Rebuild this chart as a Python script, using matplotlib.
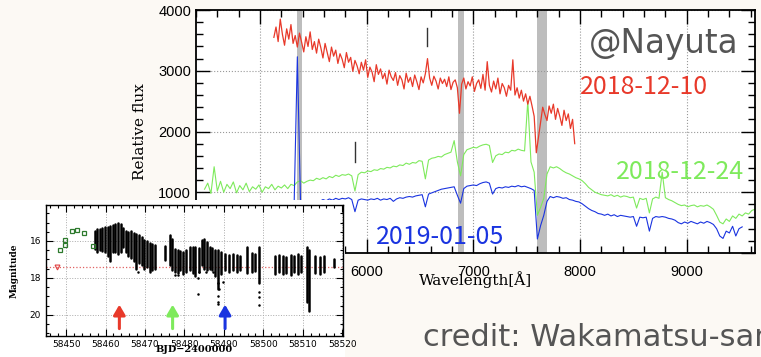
import numpy as np
import matplotlib
matplotlib.use('Agg')
import matplotlib.pyplot as plt
from matplotlib.patches import Rectangle
from matplotlib.ticker import MultipleLocator

# ---- spectra (Relative flux) ----
red_start, red_step = 5130, 20
red_flux = [
    3550, 3720, 3480, 3850, 3600, 3420, 3690, 3520, 3760, 3450,
    3580, 3390, 3620, 3470, 3310, 3560, 3400, 3640, 3350, 3480,
    3290, 3520, 3380, 3210, 3450, 3300, 3150, 3390, 3240, 3340,
    3120, 3280, 3190, 3050, 3300, 3140, 3220, 2990, 3170, 3080,
    2950, 3140, 3010, 3180, 2890, 3060, 2980, 2820, 3100, 2940,
    3030, 2870, 2960, 2780, 3010, 2900, 2840, 2970, 2760, 2920,
    2850, 2700, 2960, 2810, 2890, 2740, 2930, 2820, 2690, 2900,
    2800, 2950, 3200, 2880, 2760, 2910, 2830, 2700, 2880, 2790,
    2860, 2740, 2900, 2690, 2810, 2850, 2720, 2300, 2780, 2880,
    2700, 2820, 2750, 2900, 2660, 2790, 2850, 2710, 2940, 2680,
    3150, 2760, 2650, 2830, 2700, 2880, 2620, 2790, 2720, 2580,
    2760, 2680, 3180, 2600, 2720, 2550, 2680, 2500, 2620, 2450,
    2580, 2420, 2250, 1650, 1900, 2150, 2400, 2280, 2180, 2420,
    2300, 2450, 2200, 2380, 2250, 2100, 2350, 2180, 2290, 2050,
    2200, 1800,
]

gb_start, gb_step = 4480, 30
green_flux = [
    1050, 1150, 980, 1420, 1020, 1180, 1000, 1130, 1060, 1170,
    990, 1110, 1040, 1150, 1010, 1090, 1050, 1120, 1000, 1090,
    1060, 1130, 1040, 1100, 1070, 1120, 1060, 1130, 1110, 1170,
    1190, 1150, 1180, 1200, 1190, 1230, 1210, 1240, 1220, 1260,
    1240, 1280, 1260, 1290, 1280, 1300, 1270, 1020, 1290, 1330,
    1320, 1350, 1340, 1370, 1360, 1390, 1380, 1410, 1400, 1430,
    1420, 1450, 1440, 1480, 1460, 1490, 1480, 1520, 1510, 1220,
    1530, 1560, 1570, 1590, 1580, 1620, 1640, 1660, 1850, 1500,
    1270, 1620, 1700, 1720, 1740, 1730, 1760, 1780, 1790, 1770,
    1490, 1600, 1630, 1620, 1660, 1650, 1690, 1680, 1710, 1690,
    1680, 2500, 1500, 1330, 620, 750, 900, 1300, 1420, 1400,
    1420, 1390, 1350, 1320, 1300, 1270, 1240, 1220, 1190, 1140,
    1080, 1040, 1000, 980, 960, 950, 940, 960, 930, 950,
    920, 940, 930, 910, 920, 740, 900, 880, 900, 660,
    890, 920, 900, 1330, 910, 880, 860, 830, 800, 780,
    790, 760, 780, 790, 760, 780, 770, 790, 760, 720,
    620, 510, 480, 560, 520, 610, 570, 640, 610, 660,
    640, 700, 720,
]

blue_flux = [
    760, 800, 740, 820, 770, 790, 750, 800, 770, 810,
    760, 790, 780, 810, 770, 800, 790, 810, 780, 800,
    790, 820, 800, 810, 790, 820, 810, 830, 810, 3230,
    820, 840, 820, 850, 830, 860, 850, 880, 860, 890,
    870, 900, 880, 900, 890, 910, 880, 680, 870, 890,
    880, 870, 890, 880, 900, 870, 890, 880, 900, 850,
    890, 910, 900, 920, 930, 920, 940, 950, 960, 760,
    970, 990, 1010, 1030, 1050, 1060, 1070, 1080, 1090, 950,
    820, 1060, 1100, 1110, 1120, 1110, 1140, 1160, 1170, 1150,
    970, 1060, 1080, 1070, 1090, 1080, 1100, 1090, 1110, 1090,
    1100, 1080, 1060, 1030, 230, 450, 620, 850, 930, 910,
    930, 920, 900, 910, 880, 870, 850, 840, 810, 770,
    730, 700, 680, 650, 640, 620, 640, 610, 630, 600,
    620, 610, 600, 590, 600, 440, 590, 580, 590, 360,
    570, 600, 590, 600, 590, 570, 560, 540, 500, 480,
    510, 490, 520, 500, 480, 510, 490, 520, 500, 470,
    400, 280, 240, 360, 330, 440, 280, 400, 430,
]

bad_bands = [(5343, 5390), (6860, 6910), (7592, 7690)]
line_marks = [(6562, 3400, 3700), (5890, 1490, 1820)]

# ---- light curve (inset) ----
night_jd = [58457.2, 58457.8, 58458.5, 58459.2, 58459.8, 58460.5, 58461.2, 58461.8,
            58462.5, 58463.2, 58463.8, 58464.5, 58465.2, 58465.8, 58466.5, 58467.2,
            58467.8, 58468.5, 58469.2, 58469.8, 58470.5, 58471.2, 58471.8, 58472.5,
            58475.0, 58476.4, 58476.9, 58477.6, 58478.3, 58479.0, 58479.7, 58480.4,
            58481.4, 58482.1, 58482.8, 58483.6, 58484.4, 58485.0, 58485.7, 58486.4,
            58487.1, 58487.8, 58488.5, 58489.2, 58490.3, 58491.3, 58492.2, 58493.2,
            58494.2, 58495.9, 58497.1, 58498.0, 58498.8, 58502.9, 58503.9, 58505.0,
            58505.8, 58506.9, 58507.9, 58508.8, 58509.6, 58511.0, 58511.7, 58513.2,
            58514.3, 58515.4, 58518.0]
night_top = [15.45, 15.35, 15.35, 15.3, 15.25, 15.25, 15.2, 15.15,
             15.1, 15.05, 15.1, 15.3, 15.45, 15.5, 15.45, 15.55,
             15.6, 15.7, 15.8, 15.95, 16.0, 16.1, 16.15, 16.2,
             16.25, 15.7, 15.9, 16.45, 16.5, 16.55, 16.6, 16.5,
             16.3, 16.35, 16.3, 16.4, 15.95, 15.9, 16.05, 16.3,
             16.4, 16.5, 16.5, 16.6, 16.7, 16.75, 16.7, 16.75,
             16.8, 16.35, 16.65, 16.7, 16.35, 16.8, 16.75, 16.8,
             16.85, 16.75, 16.8, 16.7, 16.8, 16.35, 16.5, 16.8,
             16.85, 16.8, 16.95]
night_bot = [16.45, 16.6, 16.5, 16.55, 16.6, 16.8, 17.1, 16.6,
             16.6, 16.7, 16.6, 16.3, 16.6, 16.8, 16.9, 17.1,
             17.5, 17.2, 17.3, 17.5, 17.4, 17.7, 17.6, 17.5,
             17.05, 17.3, 17.6, 17.7, 17.75, 17.6, 17.8, 17.7,
             17.6, 17.75, 17.9, 17.7, 17.3, 17.5, 17.6, 17.5,
             17.6, 17.9, 18.6, 17.8, 17.6, 17.7, 17.55, 17.7,
             17.6, 17.75, 17.7, 17.65, 18.3, 17.8, 17.7, 17.8,
             17.75, 17.85, 17.7, 17.8, 17.7, 19.3, 19.8, 17.75,
             17.8, 17.7, 17.4]
out_jd = [58468.2, 58477.5, 58478.3, 58483.4, 58483.4, 58483.8, 58485.5, 58487.2,
          58488.4, 58488.8, 58488.5, 58488.6, 58488.4, 58489.8, 58498.9, 58498.9,
          58498.9]
out_mag = [17.68, 17.86, 17.86, 17.98, 18.85, 17.7, 17.68, 17.68,
           18.3, 18.6, 19.0, 19.3, 19.4, 18.2, 18.76, 19.03,
           19.48]
early_jd = [58448.55, 58449.6, 58449.6, 58451.5, 58452.7, 58454.6, 58456.7]
early_mag = [16.5, 16.23, 15.92, 15.47, 15.42, 15.55, 16.29]
limit_jd, limit_mag = [58447.7], [17.4]
ref_mag = 17.4
arrow_jd = [58463.5, 58477.0, 58490.3]

RED, GREEN, BLUE = '#e8392a', '#7eea5c', '#1a34e0'
arrow_colors = [RED, GREEN, BLUE]

fig = plt.figure(figsize=(7.61, 3.57), dpi=100)
fig.patch.set_facecolor('#fcf9f4')

W, H = 761.0, 357.0
ax = fig.add_axes([196 / W, 1 - 253 / H, (755 - 196) / W, (253 - 10) / H])
ax.set_facecolor('white')

wl_red = red_start + red_step * np.arange(len(red_flux))
wl_green = gb_start + gb_step * np.arange(len(green_flux))
wl_blue = gb_start + gb_step * np.arange(len(blue_flux))

for a, b in bad_bands:
    ax.axvspan(a, b, color='#bdbdbd', lw=0, zorder=1)
ax.plot(wl_green, green_flux, color=GREEN, lw=0.8, zorder=2)
ax.plot(wl_blue, blue_flux, color=BLUE, lw=0.8, zorder=3)
ax.plot(wl_red, red_flux, color=RED, lw=0.9, zorder=4)
for wl, lo, hi in line_marks:
    ax.plot([wl, wl], [lo, hi], color='#333333', lw=1.0, zorder=5)

ax.set_xlim(4400, 9640)
ax.set_ylim(0, 4000)
ax.xaxis.set_major_locator(MultipleLocator(1000))
ax.xaxis.set_minor_locator(MultipleLocator(200))
ax.yaxis.set_major_locator(MultipleLocator(1000))
ax.yaxis.set_minor_locator(MultipleLocator(200))
ax.tick_params(which='both', direction='in', top=True, right=True, width=1.0)
ax.tick_params(which='major', length=10, labelsize=10.5)
ax.tick_params(axis='x', which='major', pad=9)
ax.tick_params(which='minor', length=5)
for lab in ax.get_xticklabels() + ax.get_yticklabels():
    lab.set_family('Liberation Sans')
ax.grid(True, which='major', ls=':', color='#999999', lw=0.8)
for s in ax.spines.values():
    s.set_linewidth(1.3)
ax.set_ylabel('Relative flux', family='DejaVu Serif', fontsize=11, labelpad=8)
ax.set_xlabel('Wavelength[Å]', family='DejaVu Serif', fontsize=11, labelpad=-6)

# inset with white backing
fig.add_artist(Rectangle((0, 0), 345 / W, 1 - 200 / H, transform=fig.transFigure,
                         facecolor='white', edgecolor='none', zorder=1))
ax2 = fig.add_axes([46 / W, 1 - 336 / H, (343 - 46) / W, (336 - 205) / H], zorder=2)
ax2.grid(True, which='major', ls=':', color='#aaaaaa', lw=0.7)
ax2.axhline(ref_mag, color='#e06060', ls=':', lw=0.9)
ax2.vlines(night_jd, night_top, night_bot, color='black', lw=1.8, capstyle='round')
ax2.plot(out_jd, out_mag, 'o', color='black', ms=1.8, mew=0)
ax2.plot(early_jd, early_mag, 's', mfc='none', mec='#2d7a2d', ms=3, mew=0.9)
ax2.plot(limit_jd, limit_mag, 'v', mfc='none', mec='#e04040', ms=3.5, mew=0.8)
for jd, c in zip(arrow_jd, arrow_colors):
    ax2.annotate('', xy=(jd, 19.3), xytext=(jd, 20.9),
                 arrowprops=dict(arrowstyle='-|>,head_width=0.35,head_length=0.6',
                                 color=c, lw=2.2))
ax2.set_xlim(58444.9, 58520.2)
ax2.set_ylim(21.15, 14.05)
ax2.xaxis.set_major_locator(MultipleLocator(10))
ax2.xaxis.set_minor_locator(MultipleLocator(2))
ax2.yaxis.set_major_locator(MultipleLocator(2))
ax2.yaxis.set_minor_locator(MultipleLocator(0.5))
ax2.tick_params(which='both', direction='in', top=True, right=True, width=0.8, labelsize=6.5)
ax2.tick_params(which='major', length=5)
ax2.tick_params(which='minor', length=2.5)
ax2.tick_params(axis='x', which='major', pad=3)
ax2.set_ylabel('Magnitude', family='DejaVu Serif', fontsize=6.5, weight='bold', labelpad=8)
ax2.set_xlabel('BJD\u22122400000', family='DejaVu Serif', fontsize=7, weight='bold',
               labelpad=-3)
for s in ax2.spines.values():
    s.set_linewidth(1.0)

# annotations
fig.text(664 / W, 1 - 43 / H, '@Nayuta', color='#555555', fontsize=23.5,
         family='DejaVu Sans', ha='center', va='center', zorder=3)
fig.text(644 / W, 1 - 87 / H, '2018-12-10', color=RED, fontsize=18,
         family=['Noto Sans CJK JP', 'DejaVu Sans'], ha='center', va='center', zorder=3)
fig.text(680 / W, 1 - 172 / H, '2018-12-24', color=GREEN, fontsize=18,
         family=['Noto Sans CJK JP', 'DejaVu Sans'], ha='center', va='center', zorder=3)
fig.text(440 / W, 1 - 237 / H, '2019-01-05', color=BLUE, fontsize=18,
         family=['Noto Sans CJK JP', 'DejaVu Sans'], ha='center', va='center', zorder=3)
fig.text(423 / W, 1 - 338 / H, 'credit: Wakamatsu-san', color='#555555', fontsize=22,
         family='DejaVu Sans', ha='left', va='center', zorder=3)

fig.savefig('out.png', dpi=100, facecolor=fig.get_facecolor())
